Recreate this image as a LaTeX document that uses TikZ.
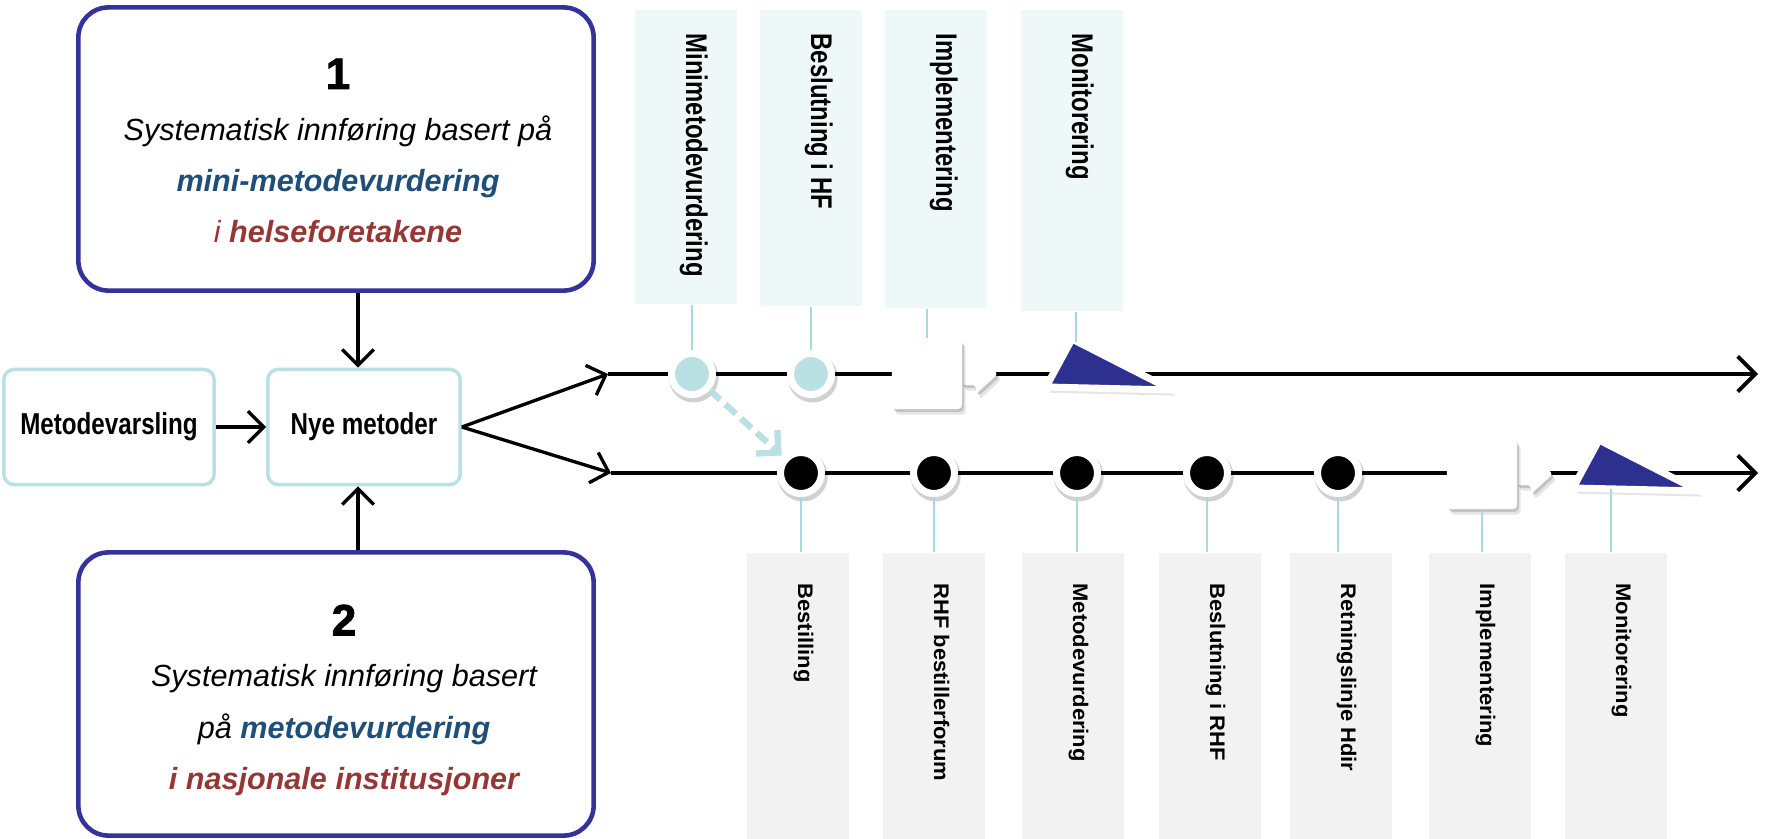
\documentclass[tikz,border=0pt]{standalone}
\usepackage{fontspec}
\setmainfont{Liberation Sans}
\newfontfamily\narrowfont[FakeStretch=0.8]{Liberation Sans}
\newfontfamily\widefont[FakeStretch=1.04]{Liberation Sans}
\newfontfamily\heavyfont[BoldFeatures={FakeBold=2}]{Liberation Sans}
\usetikzlibrary{calc,arrows.meta,shadows}

\definecolor{boxblue}{HTML}{333399}
\definecolor{textblue}{HTML}{1F4E79}
\definecolor{textred}{HTML}{953735}
\definecolor{lightteal}{HTML}{B9E0E3}
\definecolor{stemteal}{HTML}{A9D9DD}
\definecolor{paneltint}{HTML}{EFF8F8}
\definecolor{panelgray}{HTML}{F2F2F2}
\definecolor{navytri}{HTML}{2E3090}

\tikzset{
	softshadow/.style={general shadow={fill=black, opacity=0.10, shadow xshift=1pt, shadow yshift=-1.6pt},
		general shadow={fill=black, opacity=0.15, shadow xshift=0.5pt, shadow yshift=-0.8pt}},
	ringshadow/.style={general shadow={fill=black, opacity=0.18, shadow scale=1.22, shadow xshift=0.4pt, shadow yshift=-0.8pt}},
	bigbox/.style={draw=boxblue, line width=1.3pt, rounded corners=0.3cm, minimum width=5.15cm, minimum height=2.83cm},
	smallbox/.style={draw=lightteal, line width=1pt, rounded corners=0.1cm, minimum height=1.15cm, inner sep=0, font=\narrowfont\bfseries\fontsize{8.6}{10}\selectfont},
	boxtext/.style={align=center, inner sep=0, anchor=north, font=\itshape\fontsize{8.7}{14.6}\selectfont},
	uppanel/.style={fill=paneltint, minimum width=1.02cm, anchor=north, inner sep=0},
	lowpanel/.style={fill=panelgray, minimum width=1.02cm, minimum height=2.87cm, anchor=north, inner sep=0},
	uptext/.style={rotate=-90, anchor=base west, inner sep=0, font=\narrowfont\bfseries\fontsize{8.5}{10}\selectfont},
	lowtext/.style={rotate=-90, anchor=base west, inner sep=0, font=\widefont\bfseries\fontsize{6}{7}\selectfont},
	flow/.style={line width=0.95pt, -{Straight Barb[length=4.5pt,width=9pt]}},
	tline/.style={line width=1.1pt, -{Straight Barb[length=5pt,width=10pt]}},
	stem/.style={draw=stemteal, line width=0.45pt},
	dot/.style={circle, draw=white, line width=2pt, minimum size=0.41cm, inner sep=0, ringshadow},
	tealdot/.style={dot, fill=lightteal},
	blackdot/.style={dot, fill=black},
	implbox/.style={rectangle, fill=white, rounded corners=0.04cm, minimum size=0.7cm, inner sep=0, softshadow},
	flagarrow/.style={fill=white, rounded corners=1pt, softshadow},
	montri/.style={draw=white, fill=navytri, line width=2pt, line join=round, softshadow},
	dashlink/.style={draw=lightteal, line width=1.8pt, dash pattern=on 4pt off 2pt, shorten >=0.02cm, -{Straight Barb[length=4.5pt,width=9pt]}}
}

% white box with arrow tab, (centre)(name)
\def\implflag(#1)(#2){%
	\fill[flagarrow] ($(#1)+(34,-11)$) -- ++(15,0) -- ++(0,-9) -- ++(22,20) -- ++(-22,20) -- ++(0,-9) -- ++(-15,0) -- cycle;
	\node[implbox] (#2) at (#1) {};
}
% monitoring triangle, (top corner)(name)
\def\monitri(#1)(#2){%
	\coordinate (#2) at (#1);
	\coordinate (#2b) at ($(#1)+(12,49)$);
	\draw[montri] (#2) -- ++(-26,48) -- ++(126,3) -- cycle;
}

\begin{document}
\begin{tikzpicture}[x=0.01cm, y=-0.01cm]
			%%%%% START %%%%%
			\useasboundingbox (0,0) rectangle (1765,839);
			
			% the two tracks
			\node[bigbox] (box1) at (336,149) {};
			\node[boxtext] (box1t) at (338,58) {{\heavyfont\upshape\bfseries\fontsize{12.5}{14.6}\selectfont 1}\\
				Systematisk innføring basert på\\
				{\bfseries\color{textblue}mini-metodevurdering}\\
				{\color{textred}i \bfseries helseforetakene}};
			
			\node[bigbox] (box2) at (336,694) {};
			\node[boxtext] (box2t) at (344,604) {{\heavyfont\upshape\bfseries\fontsize{12.5}{14.6}\selectfont 2}\\
				Systematisk innføring basert\\
				på {\bfseries\color{textblue}metodevurdering}\\
				{\bfseries\color{textred}i nasjonale institusjoner}};
			
			\node[smallbox, minimum width=2.1cm] (varsling) at (109,427) {Metodevarsling};
			\node[smallbox, minimum width=1.92cm] (nye) at (364,427) {Nye metoder};
			
			\draw[flow] (varsling) -- (nye);
			\draw[flow] ($(box1.south -| nye)+(-6,0)$) -- ($(nye.north)+(-6,0)$);
			\draw[flow] ($(box2.north -| nye)+(-6,0)$) -- ($(nye.south)+(-6,0)$);
			
			% panels above
			\node[uppanel, minimum height=2.94cm] (pa1) at (686,9) {};
			\node[uppanel, minimum height=2.96cm] (pa2) at (811,9) {};
			\node[uppanel, minimum height=2.98cm] (pa3) at (936,9) {};
			\node[uppanel, minimum height=3.01cm] (pa4) at (1072,9) {};
			
			\node[uptext] (la1) at ($(pa1.north)+(0,24)$) {Minimetodevurdering};
			\node[uptext] (la2) at ($(pa2.north)+(0,24)$) {Beslutning i HF};
			\node[uptext] (la3) at ($(pa3.north)+(0,24)$) {Implementering};
			\node[uptext] (la4) at ($(pa4.north)+(0,24)$) {Monitorering};
			
			% panels below
			\node[lowpanel] (pb1) at (798,552) {};
			\node[lowpanel] (pb2) at (934,552) {};
			\node[lowpanel] (pb3) at (1073,552) {};
			\node[lowpanel] (pb4) at (1210,552) {};
			\node[lowpanel] (pb5) at (1341,552) {};
			\node[lowpanel] (pb6) at (1480,552) {};
			\node[lowpanel] (pb7) at (1616,552) {};
			
			\node[lowtext] (lb1) at ($(pb1.north)+(0,31)$) {Bestilling};
			\node[lowtext] (lb2) at ($(pb2.north)+(0,31)$) {RHF bestillerforum};
			\node[lowtext] (lb3) at ($(pb3.north)+(0,31)$) {Metodevurdering};
			\node[lowtext] (lb4) at ($(pb4.north)+(0,31)$) {Beslutning i RHF};
			\node[lowtext] (lb5) at ($(pb5.north)+(0,31)$) {Retningslinje Hdir};
			\node[lowtext] (lb6) at ($(pb6.north)+(0,31)$) {Implementering};
			\node[lowtext] (lb7) at ($(pb7.north)+(0,31)$) {Monitorering};
			
			% time lines
			\coordinate (a0) at (608,374);
			\coordinate (a1) at (1758,374);
			\coordinate (b0) at (611,473);
			\coordinate (b1) at (1758,473);
			
			\draw[flow] (nye.east) -- (a0);
			\draw[flow] (nye.east) -- (b0);
			\draw[tline] (a0) -- (a1);
			\draw[tline] (b0) -- (b1);
			
			% markers
			\node[tealdot] (ma1) at (692,374) {};
			\node[tealdot] (ma2) at (811,374) {};
			\implflag(927,374)(flaga)
			\monitri(1072,339)(tria)
			
			\node[blackdot] (mb1) at (801,473) {};
			\node[blackdot] (mb2) at (934,473) {};
			\node[blackdot] (mb3) at (1077,473) {};
			\node[blackdot] (mb4) at (1207,473) {};
			\node[blackdot] (mb5) at (1338,473) {};
			\implflag(1482,474)(flagb)
			\monitri(1599,440)(trib)
			
			% stems
			\draw[stem] (pa1.south -| ma1) -- (ma1.north);
			\draw[stem] (pa2.south -| ma2) -- (ma2.north);
			\draw[stem] (pa3.south -| flaga) -- (flaga.north);
			\draw[stem] ($(pa4.south -| tria)+(4,0)$) -- ($(tria)+(4,3)$);
			
			\draw[stem] (mb1.south) -- (mb1.south |- pb1.north);
			\draw[stem] (mb2.south) -- (mb2.south |- pb2.north);
			\draw[stem] (mb3.south) -- (mb3.south |- pb3.north);
			\draw[stem] (mb4.south) -- (mb4.south |- pb4.north);
			\draw[stem] (mb5.south) -- (mb5.south |- pb5.north);
			\draw[stem] (flagb.south) -- (flagb.south |- pb6.north);
			\draw[stem] (tribb) -- (tribb |- pb7.north);
			
			\draw[dashlink] (ma1) -- (mb1);
			
			%%%%% END %%%%%
\end{tikzpicture}
\end{document}
